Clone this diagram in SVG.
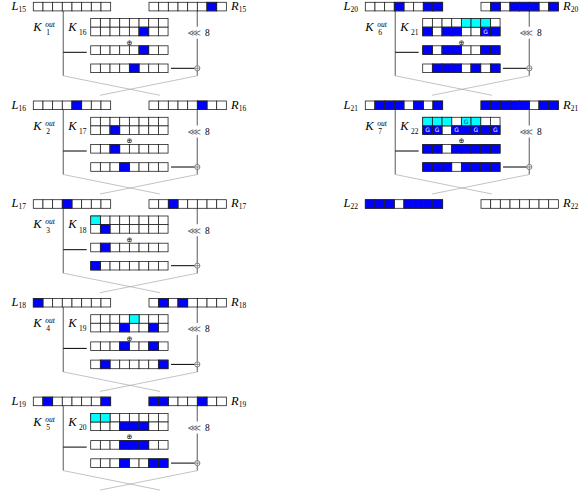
<svg xmlns="http://www.w3.org/2000/svg" xmlns:xlink="http://www.w3.org/1999/xlink" width="580" height="500" viewBox="0 0 580 500">
<style>
.cell{fill:#fff;stroke:#222;stroke-width:0.8}
.b{fill:#0000ff;stroke:#222;stroke-width:0.8}
.c{fill:#00ffff;stroke:#222;stroke-width:0.8}
.gt{font-family:"DejaVu Sans",sans-serif;font-size:6px;fill:#fff;text-anchor:middle}
.gc{fill:#2233cc}
.lab{font-family:"Liberation Serif",serif;font-style:italic;font-size:12.5px;fill:#000}
.sub{font-style:normal;font-size:7.5px}
.sup{font-size:7.5px;fill:#000}
.v{stroke:#808080;stroke-width:1.3;fill:none}
.h{stroke:#000;stroke-width:1;fill:none}
.x{stroke:#9a9a9a;stroke-width:0.6;fill:none}
.xor{fill:#fff;stroke:#555;stroke-width:0.7}
.rot{font-family:"DejaVu Sans",sans-serif;font-size:9.5px;fill:#666}
.num{font-family:"Liberation Serif",serif;font-size:9.5px;fill:#000}
.op{font-family:"DejaVu Sans",sans-serif;font-size:7px;fill:#000;text-anchor:middle}
</style>
<defs>
<g id="row">
<rect class="cell" x="0" y="0" width="9.67" height="8.6"/>
<rect class="cell" x="9.67" y="0" width="9.67" height="8.6"/>
<rect class="cell" x="19.34" y="0" width="9.67" height="8.6"/>
<rect class="cell" x="29.01" y="0" width="9.67" height="8.6"/>
<rect class="cell" x="38.68" y="0" width="9.67" height="8.6"/>
<rect class="cell" x="48.35" y="0" width="9.67" height="8.6"/>
<rect class="cell" x="58.02" y="0" width="9.67" height="8.6"/>
<rect class="cell" x="67.69" y="0" width="9.67" height="8.6"/>
</g>
<rect id="bc" class="b" width="9.67" height="8.6"/>
<rect id="cc" class="c" width="9.67" height="8.6"/>
<g id="xorsym">
<circle class="xor" cx="197.3" cy="66" r="2.6"/>
<path d="M194.7 66h5.2M197.3 63.4v5.2" stroke="#555" stroke-width="0.6"/>
</g>
<g id="conn">
<line class="v" x1="63.3" y1="8.6" x2="63.3" y2="73.5"/>
<path class="v" d="M197.3 8.6V24.5M197.3 36.5V63.4M197.3 68.6V73.5"/>
<line class="h" x1="63.3" y1="50" x2="86.7" y2="50"/>
<line class="h" x1="171" y1="66" x2="194.7" y2="66"/>
<path class="x" d="M63.3 73.5L160 93M197.3 73.5L100 93"/>
</g>
</defs>

<g id="connectors">
<use xlink:href="#conn" transform="translate(0,2.3)"/>
<use xlink:href="#conn" transform="translate(0,101)"/>
<use xlink:href="#conn" transform="translate(0,199.7)"/>
<use xlink:href="#conn" transform="translate(0,298.4)"/>
<use xlink:href="#conn" transform="translate(0,397.1)"/>
<use xlink:href="#conn" transform="translate(332,2.3)"/>
<use xlink:href="#conn" transform="translate(332,101)"/>
</g>

<!-- Round block 1 -->
<g id="round16" transform="translate(0,2.3)">
<g id="L15"><text class="lab" x="11.5" y="7.5">L<tspan class="sub" dy="2.3">15</tspan></text>
<g transform="translate(33.3,0)"><use xlink:href="#row"/></g></g>
<g id="R15"><text class="lab" x="231" y="7.5">R<tspan class="sub" dy="2.3">15</tspan></text>
<g transform="translate(149,0)"><use xlink:href="#row"/><use xlink:href="#bc" x="58.02"/></g></g>
<g id="K16"><text class="lab" x="33.3" y="28.5">K<tspan class="sup" x="45.3" y="24.5">out</tspan><tspan class="sub" x="46.3" y="33">1</tspan></text>
<text class="lab" x="68.3" y="28.5">K<tspan class="sub" x="79" y="33">16</tspan></text>
<g transform="translate(90.7,16.3)"><use xlink:href="#row"/><use xlink:href="#row" y="8.6"/><use xlink:href="#bc" x="48.35" y="8.6"/></g>
<text class="op" x="129.4" y="42.3">⊕</text></g>
<g id="X16a" transform="translate(90.7,43.5)"><use xlink:href="#row"/><use xlink:href="#bc" x="48.35"/></g>
<g id="X16b" transform="translate(90.7,61.7)"><use xlink:href="#row"/><use xlink:href="#bc" x="38.68"/></g>
<g id="rot16"><text class="rot" x="187.5" y="34">⋘</text><text class="num" x="205" y="34">8</text></g>
<g id="xor16"><use xlink:href="#xorsym"/></g>
</g>

<!-- Round block 2 -->
<g id="round17" transform="translate(0,101)">
<g id="L16"><text class="lab" x="11.5" y="7.5">L<tspan class="sub" dy="2.3">16</tspan></text>
<g transform="translate(33.3,0)"><use xlink:href="#row"/><use xlink:href="#bc" x="38.68"/></g></g>
<g id="R16"><text class="lab" x="231" y="7.5">R<tspan class="sub" dy="2.3">16</tspan></text>
<g transform="translate(149,0)"><use xlink:href="#row"/><use xlink:href="#bc" x="48.35"/></g></g>
<g id="K17"><text class="lab" x="33.3" y="28.5">K<tspan class="sup" x="45.3" y="24.5">out</tspan><tspan class="sub" x="46.3" y="33">2</tspan></text>
<text class="lab" x="68.3" y="28.5">K<tspan class="sub" x="79" y="33">17</tspan></text>
<g transform="translate(90.7,16.3)"><use xlink:href="#row"/><use xlink:href="#row" y="8.6"/><use xlink:href="#bc" x="19.34" y="8.6"/></g>
<text class="op" x="129.4" y="42.3">⊕</text></g>
<g id="X17a" transform="translate(90.7,43.5)"><use xlink:href="#row"/><use xlink:href="#bc" x="19.34"/></g>
<g id="X17b" transform="translate(90.7,61.7)"><use xlink:href="#row"/><use xlink:href="#bc" x="29.01"/></g>
<g id="rot17"><text class="rot" x="187.5" y="34">⋘</text><text class="num" x="205" y="34">8</text></g>
<g id="xor17"><use xlink:href="#xorsym"/></g>
</g>

<!-- Round block 3 -->
<g id="round18" transform="translate(0,199.7)">
<g id="L17"><text class="lab" x="11.5" y="7.5">L<tspan class="sub" dy="2.3">17</tspan></text>
<g transform="translate(33.3,0)"><use xlink:href="#row"/><use xlink:href="#bc" x="29.01"/></g></g>
<g id="R17"><text class="lab" x="231" y="7.5">R<tspan class="sub" dy="2.3">17</tspan></text>
<g transform="translate(149,0)"><use xlink:href="#row"/><use xlink:href="#bc" x="19.34"/></g></g>
<g id="K18"><text class="lab" x="33.3" y="28.5">K<tspan class="sup" x="45.3" y="24.5">out</tspan><tspan class="sub" x="46.3" y="33">3</tspan></text>
<text class="lab" x="68.3" y="28.5">K<tspan class="sub" x="79" y="33">18</tspan></text>
<g transform="translate(90.7,16.3)"><use xlink:href="#row"/><use xlink:href="#row" y="8.6"/><use xlink:href="#cc" x="0"/><use xlink:href="#bc" x="9.67" y="8.6"/></g>
<text class="op" x="129.4" y="42.3">⊕</text></g>
<g id="X18a" transform="translate(90.7,43.5)"><use xlink:href="#row"/><use xlink:href="#bc" x="9.67"/></g>
<g id="X18b" transform="translate(90.7,61.7)"><use xlink:href="#row"/><use xlink:href="#bc" x="0"/></g>
<g id="rot18"><text class="rot" x="187.5" y="34">⋘</text><text class="num" x="205" y="34">8</text></g>
<g id="xor18"><use xlink:href="#xorsym"/></g>
</g>

<!-- Round block 4 -->
<g id="round19" transform="translate(0,298.4)">
<g id="L18"><text class="lab" x="11.5" y="7.5">L<tspan class="sub" dy="2.3">18</tspan></text>
<g transform="translate(33.3,0)"><use xlink:href="#row"/><use xlink:href="#bc" x="0"/></g></g>
<g id="R18"><text class="lab" x="231" y="7.5">R<tspan class="sub" dy="2.3">18</tspan></text>
<g transform="translate(149,0)"><use xlink:href="#row"/><use xlink:href="#bc" x="9.67"/><use xlink:href="#bc" x="29.01"/></g></g>
<g id="K19"><text class="lab" x="33.3" y="28.5">K<tspan class="sup" x="45.3" y="24.5">out</tspan><tspan class="sub" x="46.3" y="33">4</tspan></text>
<text class="lab" x="68.3" y="28.5">K<tspan class="sub" x="79" y="33">19</tspan></text>
<g transform="translate(90.7,16.3)"><use xlink:href="#row"/><use xlink:href="#row" y="8.6"/><use xlink:href="#cc" x="38.68"/><use xlink:href="#bc" x="29.01" y="8.6"/><use xlink:href="#bc" x="58.02" y="8.6"/></g>
<text class="op" x="129.4" y="42.3">⊕</text></g>
<g id="X19a" transform="translate(90.7,43.5)"><use xlink:href="#row"/><use xlink:href="#bc" x="29.01"/><use xlink:href="#bc" x="58.02"/></g>
<g id="X19b" transform="translate(90.7,61.7)"><use xlink:href="#row"/><use xlink:href="#bc" x="9.67"/><use xlink:href="#bc" x="67.69"/></g>
<g id="rot19"><text class="rot" x="187.5" y="34">⋘</text><text class="num" x="205" y="34">8</text></g>
<g id="xor19"><use xlink:href="#xorsym"/></g>
</g>

<!-- Round block 5 -->
<g id="round20" transform="translate(0,397.1)">
<g id="L19"><text class="lab" x="11.5" y="7.5">L<tspan class="sub" dy="2.3">19</tspan></text>
<g transform="translate(33.3,0)"><use xlink:href="#row"/><use xlink:href="#bc" x="9.67"/><use xlink:href="#bc" x="67.69"/></g></g>
<g id="R19"><text class="lab" x="231" y="7.5">R<tspan class="sub" dy="2.3">19</tspan></text>
<g transform="translate(149,0)"><use xlink:href="#row"/><use xlink:href="#bc" x="0"/><use xlink:href="#bc" x="9.67"/><use xlink:href="#bc" x="48.35"/></g></g>
<g id="K20"><text class="lab" x="33.3" y="28.5">K<tspan class="sup" x="45.3" y="24.5">out</tspan><tspan class="sub" x="46.3" y="33">5</tspan></text>
<text class="lab" x="68.3" y="28.5">K<tspan class="sub" x="79" y="33">20</tspan></text>
<g transform="translate(90.7,16.3)"><use xlink:href="#row"/><use xlink:href="#row" y="8.6"/><use xlink:href="#cc" x="0"/><use xlink:href="#cc" x="9.67"/><use xlink:href="#bc" x="29.01" y="8.6"/><use xlink:href="#bc" x="38.68" y="8.6"/><use xlink:href="#bc" x="48.35" y="8.6"/></g>
<text class="op" x="129.4" y="42.3">⊕</text></g>
<g id="X20a" transform="translate(90.7,43.5)"><use xlink:href="#row"/><use xlink:href="#bc" x="29.01"/><use xlink:href="#bc" x="38.68"/><use xlink:href="#bc" x="48.35"/></g>
<g id="X20b" transform="translate(90.7,61.7)"><use xlink:href="#row"/><use xlink:href="#bc" x="29.01"/><use xlink:href="#bc" x="58.02"/><use xlink:href="#bc" x="67.69"/></g>
<g id="rot20"><text class="rot" x="187.5" y="34">⋘</text><text class="num" x="205" y="34">8</text></g>
<g id="xor20"><use xlink:href="#xorsym"/></g>
</g>

<!-- Right column, block 6 -->
<g id="round21" transform="translate(332,2.3)">
<g id="L20"><text class="lab" x="11.5" y="7.5">L<tspan class="sub" dy="2.3">20</tspan></text>
<g transform="translate(33.3,0)"><use xlink:href="#row"/><use xlink:href="#bc" x="29.01"/><use xlink:href="#bc" x="58.02"/><use xlink:href="#bc" x="67.69"/></g></g>
<g id="R20"><text class="lab" x="231" y="7.5">R<tspan class="sub" dy="2.3">20</tspan></text>
<g transform="translate(149,0)"><use xlink:href="#row"/><use xlink:href="#bc" x="9.67"/><use xlink:href="#bc" x="29.01"/><use xlink:href="#bc" x="38.68"/><use xlink:href="#bc" x="48.35"/><use xlink:href="#bc" x="67.69"/></g></g>
<g id="K21"><text class="lab" x="33.3" y="28.5">K<tspan class="sup" x="45.3" y="24.5">out</tspan><tspan class="sub" x="46.3" y="33">6</tspan></text>
<text class="lab" x="68.3" y="28.5">K<tspan class="sub" x="79" y="33">21</tspan></text>
<g transform="translate(90.7,16.3)"><use xlink:href="#row"/><use xlink:href="#row" y="8.6"/>
<use xlink:href="#cc" x="38.68"/><use xlink:href="#cc" x="48.35"/><use xlink:href="#cc" x="58.02"/>
<use xlink:href="#bc" x="0" y="8.6"/><use xlink:href="#bc" x="19.34" y="8.6"/><use xlink:href="#bc" x="29.01" y="8.6"/><use xlink:href="#bc" x="58.02" y="8.6"/><use xlink:href="#bc" x="67.69" y="8.6"/>
<text class="gt" x="62.85" y="15.1">G</text></g>
<text class="op" x="129.4" y="42.3">⊕</text></g>
<g id="X21a" transform="translate(90.7,43.5)"><use xlink:href="#row"/><use xlink:href="#bc" x="0"/><use xlink:href="#bc" x="19.34"/><use xlink:href="#bc" x="29.01"/><use xlink:href="#bc" x="58.02"/><use xlink:href="#bc" x="67.69"/></g>
<g id="X21b" transform="translate(90.7,61.7)"><use xlink:href="#row"/><use xlink:href="#bc" x="9.67"/><use xlink:href="#bc" x="19.34"/><use xlink:href="#bc" x="29.01"/><use xlink:href="#bc" x="48.35"/><use xlink:href="#bc" x="67.69"/></g>
<g id="rot21"><text class="rot" x="187.5" y="34">⋘</text><text class="num" x="205" y="34">8</text></g>
<g id="xor21"><use xlink:href="#xorsym"/></g>
</g>

<!-- Right column, block 7 -->
<g id="round22" transform="translate(332,101)">
<g id="L21"><text class="lab" x="11.5" y="7.5">L<tspan class="sub" dy="2.3">21</tspan></text>
<g transform="translate(33.3,0)"><use xlink:href="#row"/><use xlink:href="#bc" x="9.67"/><use xlink:href="#bc" x="19.34"/><use xlink:href="#bc" x="29.01"/><use xlink:href="#bc" x="48.35"/><use xlink:href="#bc" x="67.69"/></g></g>
<g id="R21"><text class="lab" x="231" y="7.5">R<tspan class="sub" dy="2.3">21</tspan></text>
<g transform="translate(149,0)"><use xlink:href="#row"/><use xlink:href="#bc" x="0"/><use xlink:href="#bc" x="9.67"/><use xlink:href="#bc" x="19.34"/><use xlink:href="#bc" x="29.01"/><use xlink:href="#bc" x="38.68"/><use xlink:href="#bc" x="58.02"/><use xlink:href="#bc" x="67.69"/></g></g>
<g id="K22"><text class="lab" x="33.3" y="28.5">K<tspan class="sup" x="45.3" y="24.5">out</tspan><tspan class="sub" x="46.3" y="33">7</tspan></text>
<text class="lab" x="68.3" y="28.5">K<tspan class="sub" x="79" y="33">22</tspan></text>
<g transform="translate(90.7,16.3)"><use xlink:href="#row"/><use xlink:href="#row" y="8.6"/>
<use xlink:href="#cc" x="0"/><use xlink:href="#cc" x="9.67"/><use xlink:href="#cc" x="19.34"/><use xlink:href="#cc" x="38.68"/><use xlink:href="#cc" x="48.35"/>
<text class="gt gc" x="43.51" y="6.5">G</text>
<use xlink:href="#bc" x="0" y="8.6"/><use xlink:href="#bc" x="9.67" y="8.6"/><use xlink:href="#bc" x="29.01" y="8.6"/><use xlink:href="#bc" x="38.68" y="8.6"/><use xlink:href="#bc" x="48.35" y="8.6"/><use xlink:href="#bc" x="58.02" y="8.6"/><use xlink:href="#bc" x="67.69" y="8.6"/>
<text class="gt" x="4.835" y="15.1">G</text><text class="gt" x="14.5" y="15.1">G</text><text class="gt" x="33.84" y="15.1">G</text><text class="gt" x="53.18" y="15.1">G</text><text class="gt" x="72.52" y="15.1">G</text></g>
<text class="op" x="129.4" y="42.3">⊕</text></g>
<g id="X22a" transform="translate(90.7,43.5)"><use xlink:href="#row"/><use xlink:href="#bc" x="0"/><use xlink:href="#bc" x="9.67"/><use xlink:href="#bc" x="29.01"/><use xlink:href="#bc" x="38.68"/><use xlink:href="#bc" x="48.35"/><use xlink:href="#bc" x="58.02"/><use xlink:href="#bc" x="67.69"/></g>
<g id="X22b" transform="translate(90.7,61.7)"><use xlink:href="#row"/><use xlink:href="#bc" x="0"/><use xlink:href="#bc" x="9.67"/><use xlink:href="#bc" x="19.34"/><use xlink:href="#bc" x="38.68"/><use xlink:href="#bc" x="48.35"/><use xlink:href="#bc" x="58.02"/><use xlink:href="#bc" x="67.69"/></g>
<g id="rot22"><text class="rot" x="187.5" y="34">⋘</text><text class="num" x="205" y="34">8</text></g>
<g id="xor22"><use xlink:href="#xorsym"/></g>
</g>

<!-- Right column, output -->
<g id="out22" transform="translate(332,199.7)">
<g id="L22"><text class="lab" x="11.5" y="7.5">L<tspan class="sub" dy="2.3">22</tspan></text>
<g transform="translate(33.3,0)"><use xlink:href="#row"/><use xlink:href="#bc" x="0"/><use xlink:href="#bc" x="9.67"/><use xlink:href="#bc" x="19.34"/><use xlink:href="#bc" x="38.68"/><use xlink:href="#bc" x="48.35"/><use xlink:href="#bc" x="58.02"/><use xlink:href="#bc" x="67.69"/></g></g>
<g id="R22"><text class="lab" x="231" y="7.5">R<tspan class="sub" dy="2.3">22</tspan></text>
<g transform="translate(149,0)"><use xlink:href="#row"/></g></g>
</g>
</svg>
